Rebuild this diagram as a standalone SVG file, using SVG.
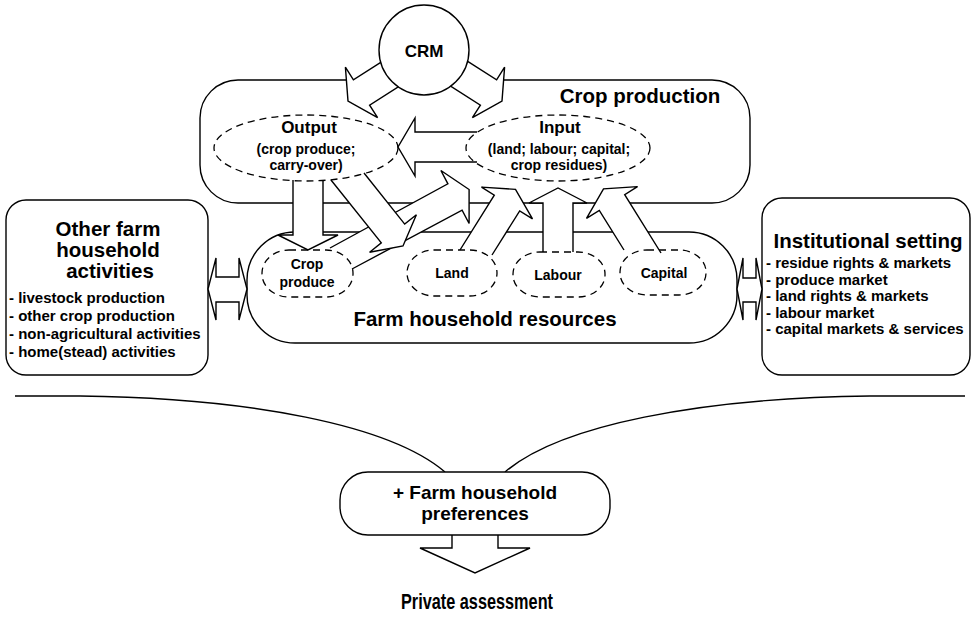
<svg xmlns="http://www.w3.org/2000/svg" width="973" height="619" viewBox="0 0 973 619">
<style>
text{font-family:"Liberation Sans",Arial,Helvetica,sans-serif;font-weight:bold;fill:#000}
.box{fill:#fff;stroke:#000;stroke-width:1.4}
.dash{fill:none;stroke:#000;stroke-width:1.3;stroke-dasharray:7 5}
.arr{fill:#fff;stroke:#000;stroke-width:1.4;stroke-linejoin:miter}
.ln{fill:none;stroke:#000;stroke-width:1.4}
.t20{font-size:20.5px}
.t21{font-size:21.5px}
.t17{font-size:17px}
.t14{font-size:14px}
.t15{font-size:15px}
.t19{font-size:19px}
</style>
<rect width="973" height="619" fill="#fff"/>

<g id="crop-production">
<rect class="box" x="200" y="80" width="550" height="123" rx="38"/>
<text class="t20" x="640" y="103" text-anchor="middle">Crop production</text>
</g>

<g id="farm-household-resources">
<rect class="box" x="247" y="232" width="490" height="111" rx="48"/>
<text class="t20" x="485" y="326" text-anchor="middle">Farm household resources</text>
</g>

<g id="other-farm-activities">
<rect class="box" x="6" y="200" width="202" height="175" rx="20"/>
<text class="t20" x="108" y="236" text-anchor="middle">Other farm</text>
<text class="t20" x="108" y="257" text-anchor="middle">household</text>
<text class="t20" x="110" y="278" text-anchor="middle">activities</text>
<text class="t15" x="9" y="303">- livestock production</text>
<text class="t15" x="9" y="321">- other crop production</text>
<text class="t15" x="9" y="339">- non-agricultural activities</text>
<text class="t15" x="9" y="357">- home(stead) activities</text>
</g>

<g id="institutional-setting">
<rect class="box" x="762" y="198" width="208" height="177" rx="20"/>
<text class="t20" x="868" y="248" text-anchor="middle">Institutional setting</text>
<text class="t15" x="766" y="268">- residue rights &amp; markets</text>
<text class="t15" x="766" y="284.5">- produce market</text>
<text class="t15" x="766" y="301">- land rights &amp; markets</text>
<text class="t15" x="766" y="317.5">- labour market</text>
<text class="t15" x="766" y="334">- capital markets &amp; services</text>
</g>

<g id="connectors">
<!-- CRM arrows -->
<polygon class="arr" points="433.1,64.7 369.6,105.1 377.6,117.7 348,101 345.4,67.1 353.4,79.8 416.9,39.3"/>
<polygon class="arr" points="416.9,64.7 480.4,105.1 472.4,117.7 502,101 504.6,67.1 496.6,79.8 433.1,39.3"/>
<!-- input -> output -->
<path class="arr" d="M477,132 L415,132 L415,118 L398,147 L415,176 L415,162 L477,162"/>
<!-- output -> crop produce -->
<path class="arr" d="M323,180 L323,235 L338,235 L308,250 L278,235 L293,235 L293,180"/>
<!-- crop produce -> input -->
<path class="arr" d="M352,269 L462.1,210.2 L469.1,223.5 L469.1,189.5 L440.9,170.5 L447.9,183.8 L330,248"/>
<!-- output -> farm resources -->
<path class="arr" d="M364,173 L404.7,224.1 L416.4,214.8 L403,246 L369.6,252.3 L381.3,242.9 L331,180"/>
<!-- land -> input -->
<path class="arr" d="M492,255 L519.7,210.9 L532.5,218.9 L515.5,189.4 L481.5,187.1 L494.3,195.1 L460,250"/>
<!-- labour -> input -->
<path class="arr" d="M573,252 L573,203 L587,203 L558,188 L529,203 L543,203 L543,252"/>
<!-- capital -> input -->
<path class="arr" d="M661,253 L624.7,194.6 L637.5,186.6 L603.5,188.9 L586.5,218.4 L599.3,210.4 L624,250"/>
<!-- double arrows -->
<polygon class="arr" points="208,289 216,258 216,277 239,277 239,258 247,289 239,320 239,302 216,302 216,320"/>
<polygon class="arr" points="737,289 743,258 743,278 756,278 756,258 762,289 756,320 756,302 743,302 743,320"/>
<!-- lower curves -->
<path class="ln" d="M15,396 L80,396 C250,398 390,425 445,472"/>
<path class="ln" d="M965,396 L870,396 C700,398 560,425 505,472"/>
<!-- final arrow -->
<path class="arr" d="M452,535 L452,548 L420,548 L475,573 L530,548 L498,548 L498,535"/>
</g>

<g id="crm">
<circle class="box" cx="424" cy="50" r="45"/>
<text class="t17" x="424" y="57" text-anchor="middle">CRM</text>
</g>

<g id="output">
<ellipse class="dash" cx="306" cy="148" rx="92" ry="33"/>
<text class="t17" x="309" y="133" text-anchor="middle">Output</text>
<text class="t14" x="306" y="154" text-anchor="middle">(crop produce;</text>
<text class="t14" x="306" y="170" text-anchor="middle">carry-over)</text>
</g>

<g id="input">
<ellipse class="dash" cx="558" cy="148" rx="92" ry="33"/>
<text class="t17" x="560" y="133" text-anchor="middle">Input</text>
<text class="t14" x="559" y="154" text-anchor="middle">(land; labour; capital;</text>
<text class="t14" x="559" y="170" text-anchor="middle">crop residues)</text>
</g>

<g id="crop-produce">
<rect class="dash" x="262" y="250" width="91" height="47" rx="27" ry="23"/>
<text class="t14" x="307" y="269" text-anchor="middle">Crop</text>
<text class="t14" x="307" y="287" text-anchor="middle">produce</text>
</g>

<g id="land">
<rect class="dash" x="407" y="250" width="90" height="46" rx="27" ry="23"/>
<text class="t14" x="452" y="278" text-anchor="middle">Land</text>
</g>

<g id="labour">
<rect class="dash" x="513" y="252" width="92" height="45" rx="27" ry="22"/>
<text class="t14" x="558" y="280" text-anchor="middle">Labour</text>
</g>

<g id="capital">
<rect class="dash" x="620" y="250" width="86" height="45" rx="27" ry="22"/>
<text class="t14" x="664" y="278" text-anchor="middle">Capital</text>
</g>

<g id="preferences">
<rect class="box" x="340" y="472" width="270" height="63" rx="28"/>
<text class="t19" x="475" y="499" text-anchor="middle">+ Farm household</text>
<text class="t19" x="475" y="520" text-anchor="middle">preferences</text>
</g>

<g id="private-assessment">
<text class="t21" x="401" y="609" textLength="152" lengthAdjust="spacingAndGlyphs">Private assessment</text>
</g>
</svg>
